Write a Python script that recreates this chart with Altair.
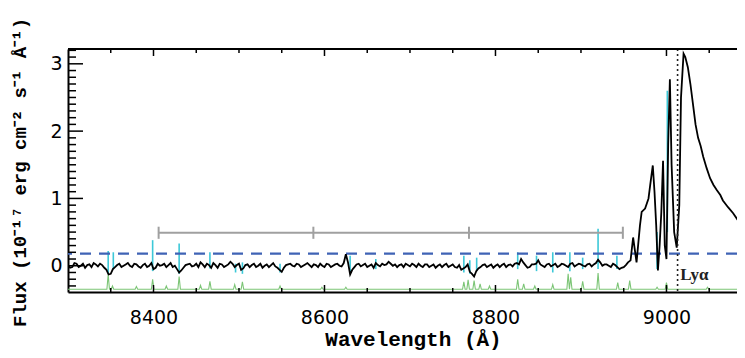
import altair as alt
import pandas as pd

W, H = 669, 243
XMIN, XMAX = 8300, 9082.5
YMIN, YMAX = -0.39, 3.22

# black spectrum: flat noisy part, values at 8300, 8305, ... and at 8302.5, 8307.5, ...
noise_flux = [
    0.01, -0.02, 0.03, 0.00, -0.03, 0.02, 0.04, -0.01, 0.01, -0.06,
    -0.12, -0.02, 0.03, 0.00, 0.04, -0.02, 0.02, -0.03, 0.03, 0.00,
    -0.05, 0.03, 0.01, -0.02, 0.04, 0.00, -0.10, -0.03, 0.02, -0.01,
    0.03, 0.05, -0.02, 0.01, 0.04, -0.03, 0.02, 0.00, 0.06, -0.02,
    0.03, -0.04, 0.02, 0.01, -0.02, 0.03, 0.00, -0.02, 0.04, -0.03,
    -0.09, 0.01, 0.03, -0.01, 0.02, 0.00, 0.04, -0.02, 0.01, 0.03,
    -0.02, 0.02, 0.00, 0.03, -0.01, 0.17, -0.13, -0.02, 0.03, 0.01,
    -0.02, 0.02, 0.04, -0.01, 0.01, 0.06, 0.00, -0.02, 0.02, 0.03,
    -0.01, 0.01, 0.03, -0.02, 0.02, 0.00, -0.03, 0.02, 0.01, -0.02,
    0.02, -0.03, -0.06, -0.02, -0.09, -0.16, -0.04, 0.01, -0.02, 0.02,
    0.00, -0.02, 0.03, 0.01, -0.01, 0.04, 0.10, 0.01, -0.02, 0.02,
    0.08, 0.00, 0.02, -0.01, 0.03, 0.00, 0.02, -0.02, 0.04, 0.01,
    0.02, -0.01, 0.03, 0.02, 0.09, 0.00, 0.02, -0.02, 0.01, -0.05,
    -0.02, 0.05,
]
noise_mid = [
    -0.03, 0.04, -0.02, 0.03, 0.01, -0.02, 0.02, 0.03, -0.03, -0.13,
    -0.05, 0.01, -0.02, 0.02, 0.00, 0.03, -0.01, 0.01, -0.02, 0.04,
    -0.03, 0.00, 0.03, 0.01, -0.02, -0.05, -0.07, 0.01, 0.03, 0.00,
    -0.02, 0.02, 0.03, -0.03, 0.01, 0.03, -0.02, 0.02, 0.03, 0.01,
    -0.06, 0.01, -0.02, 0.03, 0.00, -0.03, 0.02, 0.01, -0.01, -0.06,
    -0.03, 0.02, 0.00, 0.03, -0.02, 0.02, 0.01, 0.02, -0.02, 0.00,
    0.03, -0.02, 0.02, 0.00, 0.04, 0.05, -0.06, 0.02, -0.01, 0.03,
    0.00, -0.03, 0.01, 0.03, 0.02, 0.03, 0.02, 0.01, -0.02, 0.01,
    0.03, -0.02, 0.00, 0.02, -0.02, 0.02, 0.00, -0.02, 0.03, 0.00,
    -0.02, 0.01, -0.04, 0.02, -0.12, -0.08, -0.02, 0.02, 0.00, -0.03,
    0.02, 0.01, -0.02, 0.02, 0.03, 0.02, 0.05, -0.03, 0.02, 0.03,
    0.02, -0.02, 0.03, 0.01, -0.02, 0.03, 0.00, 0.03, -0.01, 0.03,
    0.00, 0.02, -0.01, 0.04, 0.05, 0.02, 0.00, 0.03, -0.02, -0.03,
    0.01,
]
peak_wl = [8958, 8961, 8965, 8969, 8971, 8975, 8979, 8981, 8984, 8986,
           8988, 8990, 8992, 8994, 8996, 8998, 9000, 9002, 9004, 9006,
           9009, 9012, 9015, 9017, 9020, 9022, 9025, 9028, 9031, 9034,
           9037, 9040, 9043, 9047, 9051, 9055, 9059, 9063, 9066, 9072,
           9078, 9084]
peak_flux = [0.08, 0.42, 0.05, 0.60, 0.80, 0.85, 1.00, 1.20, 1.49, 1.10,
             0.60, -0.07, 0.30, 0.80, 1.56, 0.30, 0.10, 1.80, 2.77, 1.50,
             0.50, 0.27, 0.90, 2.50, 3.15, 3.10, 2.95, 2.70, 2.40, 2.10,
             1.90, 1.78, 1.62, 1.45, 1.30, 1.20, 1.12, 1.05, 0.97, 0.87,
             0.78, 0.67]

# cyan sky-line residual spikes
cyan_wl = [8347, 8353, 8399, 8430, 8466, 8496, 8504, 8548, 8630, 8660,
           8763, 8770, 8778, 8826, 8848, 8867, 8887, 8902, 8920, 8942,
           8989, 9001]
cyan_lo = [-0.12, -0.05, -0.08, -0.12, -0.04, -0.10, -0.12, -0.10, -0.10, -0.05,
           -0.10, -0.12, -0.08, -0.05, -0.08, -0.10, -0.08, -0.05, -0.05, -0.05,
           -0.05, 0.50]
cyan_hi = [0.22, 0.20, 0.38, 0.33, 0.20, 0.03, 0.05, 0.03, 0.15, 0.10,
           0.15, 0.08, 0.12, 0.20, 0.15, 0.20, 0.20, 0.12, 0.55, 0.15,
           0.50, 2.60]

# green sky spectrum
sky_base = -0.35
sky_wl = [8347, 8352, 8380, 8399, 8415, 8430, 8455, 8466, 8495, 8504,
          8548, 8597, 8625, 8763, 8768, 8775, 8782, 8793, 8826, 8833,
          8846, 8867, 8885, 8888, 8902, 8920, 8943, 8957, 8989, 9000, 9048]
sky_peak = [-0.13, -0.30, -0.31, -0.20, -0.30, -0.16, -0.29, -0.23, -0.28, -0.24,
            -0.30, -0.32, -0.32, -0.24, -0.21, -0.22, -0.27, -0.30, -0.20, -0.27,
            -0.30, -0.28, -0.12, -0.17, -0.23, -0.11, -0.25, -0.22, -0.32, -0.25, -0.32]

# gray range bar
bar_y = 0.49
bar_lo, bar_hi = 8406, 8949
bar_ticks = [8406, 8587, 8769, 8949]
cap_lo, cap_hi = 0.40, 0.58

dash_y = 0.18
lya_wl = 9013
lya_label = "Lyα"

x_labels = [8400, 8600, 8800, 9000]
x_minor = [8350, 8450, 8500, 8550, 8650, 8700, 8750, 8850, 8900, 8950, 9050]
y_labels = [0, 1, 2, 3]
y_minor = [-0.3, -0.2, -0.1, 0.1, 0.2, 0.3, 0.4, 0.5, 0.6, 0.7, 0.8, 0.9,
           1.1, 1.2, 1.3, 1.4, 1.5, 1.6, 1.7, 1.8, 1.9,
           2.1, 2.2, 2.3, 2.4, 2.5, 2.6, 2.7, 2.8, 2.9, 3.1, 3.2]

# ---- tables ----
spec = pd.DataFrame({
    "wl": [8300 + 5 * i for i in range(len(noise_flux))]
          + [8302.5 + 5 * i for i in range(len(noise_mid))] + peak_wl,
    "flux": noise_flux + noise_mid + peak_flux,
})
cyan = pd.DataFrame({"wl": cyan_wl, "flux": cyan_lo, "flux2": cyan_hi})
sky_rows = [(XMIN, sky_base)]
for w, p in zip(sky_wl, sky_peak):
    sky_rows += [(w - 1.5, sky_base), (w, p), (w + 1.5, sky_base)]
sky_rows.append((XMAX, sky_base))
sky = pd.DataFrame(sky_rows, columns=["wl", "flux"])
bar = pd.DataFrame({"wl": [bar_lo], "wl2": [bar_hi], "flux": [bar_y]})
caps = pd.DataFrame({"wl": bar_ticks, "flux": [cap_lo] * 4, "flux2": [cap_hi] * 4})
dash = pd.DataFrame({"flux": [dash_y]})
lya = pd.DataFrame({"wl": [lya_wl]})
lya_txt = pd.DataFrame({"wl": [lya_wl + 3], "flux": [-0.21], "t": [lya_label]})
xmaj = pd.DataFrame({"wl": x_labels})
xmin_ = pd.DataFrame({"wl": x_minor})
ymaj = pd.DataFrame({"flux": y_labels})
ymin_ = pd.DataFrame({"flux": y_minor})
one = pd.DataFrame({"a": [0]})

xs = alt.Scale(domain=[XMIN, XMAX], nice=False, zero=False)
ys = alt.Scale(domain=[YMIN, YMAX], nice=False, zero=False)
xaxis = alt.Axis(values=x_labels, format="d", title="Wavelength (Å)",
                 labelPadding=16, titleY=53, titleX=345, titleAlign="center",
                 titleBaseline="alphabetic", titleFont="Liberation Mono",
                 titleFontSize=21, titleFontWeight="bold")
yaxis = alt.Axis(values=y_labels, format="d",
                 title="Flux (10⁻¹⁷ erg cm⁻² s⁻¹ Å⁻¹)",
                 labelPadding=6, titleX=-49, titleY=123, titleAngle=270,
                 titleAlign="center", titleBaseline="middle",
                 titleFont="Liberation Mono", titleFontSize=19,
                 titleFontWeight="bold")
X = alt.X("wl:Q", scale=xs, axis=xaxis)
Y = alt.Y("flux:Q", scale=ys, axis=yaxis)

green = alt.Chart(sky).mark_line(color="#7cc576", strokeWidth=1.1, clip=True).encode(x=X, y=Y, order="wl:Q")
cyan_l = alt.Chart(cyan).mark_rule(color="#3cc8d8", strokeWidth=1.6, clip=True).encode(x=X, y=Y, y2="flux2:Q")
gray_l = alt.Chart(bar).mark_rule(color="#a0a0a0", strokeWidth=2).encode(x=X, x2="wl2:Q", y=Y)
gray_c = alt.Chart(caps).mark_rule(color="#a0a0a0", strokeWidth=2).encode(x=X, y=Y, y2="flux2:Q")
dash_l = alt.Chart(dash).mark_rule(color="#3f63b5", strokeWidth=2.2, strokeDash=[11, 8]).encode(y=Y)
black = alt.Chart(spec).mark_line(color="black", strokeWidth=1.8, clip=True).encode(x=X, y=Y, order="wl:Q")
lya_l = alt.Chart(lya).mark_rule(color="#222", strokeWidth=1.6, strokeDash=[2, 3]).encode(x=X)
lya_t = alt.Chart(lya_txt).mark_text(align="left", baseline="alphabetic", font="Liberation Serif",
                                    fontSize=17, fontWeight="bold", color="#222").encode(x=X, y=Y, text="t:N")

tk = dict(color="black", strokeWidth=1.5)
top = alt.Chart(one).mark_rule(color="black", strokeWidth=2).encode(x=alt.value(0), x2=alt.value(W), y=alt.value(0))
bx_maj = alt.Chart(xmaj).mark_rule(**tk).encode(x=X, y=alt.value(H), y2=alt.value(H - 7))
bx_min = alt.Chart(xmin_).mark_rule(**tk).encode(x=X, y=alt.value(H), y2=alt.value(H - 4))
tx_maj = alt.Chart(xmaj).mark_rule(**tk).encode(x=X, y=alt.value(0), y2=alt.value(7))
tx_min = alt.Chart(xmin_).mark_rule(**tk).encode(x=X, y=alt.value(0), y2=alt.value(4))
ly_maj = alt.Chart(ymaj).mark_rule(**tk).encode(y=Y, x=alt.value(0), x2=alt.value(15))
ly_min = alt.Chart(ymin_).mark_rule(**tk).encode(y=Y, x=alt.value(0), x2=alt.value(8))

chart = alt.layer(
    green, cyan_l, gray_l, gray_c, dash_l, black, lya_l, lya_t,
    top, bx_maj, bx_min, tx_maj, tx_min, ly_maj, ly_min,
).properties(
    width=W, height=H, autosize="none",
    padding={"left": 60, "top": 41, "right": 0, "bottom": 58},
    background="white",
).configure_view(stroke=None).configure_axis(
    domainColor="black", domainWidth=2, grid=False, ticks=False,
    labelFont="DejaVu Sans", labelFontSize=19, labelColor="black",
    titleColor="black", labelOverlap=False, labelFlush=False,
)

chart.save("out.html", embed_options={"renderer": "svg", "actions": False})
